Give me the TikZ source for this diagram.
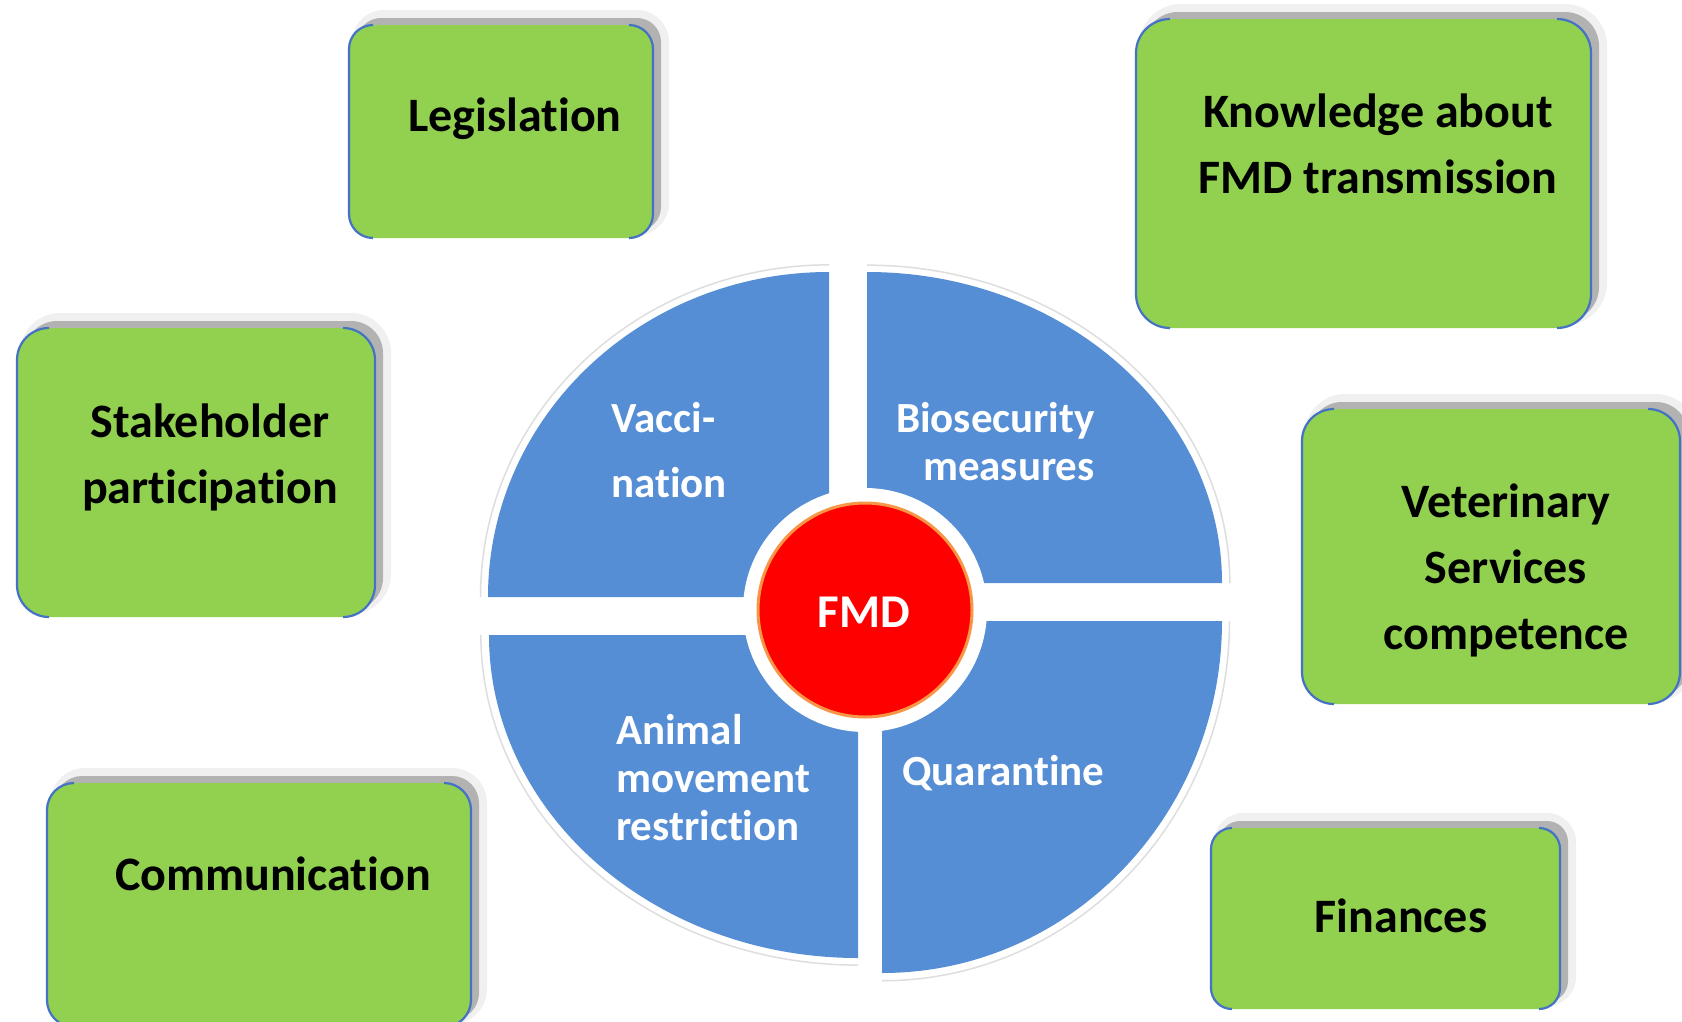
\documentclass[tikz,border=0pt]{standalone}
\usepackage{fontspec}
\setmainfont{Carlito}[Ligatures=NoCommon]
\usetikzlibrary{calc}
\definecolor{gfill}{HTML}{92D050}
\definecolor{bline}{HTML}{4472C4}
\definecolor{pieblue}{HTML}{558ED5}
\definecolor{fmdred}{HTML}{FF0000}
\definecolor{fmdorange}{HTML}{F79646}
\tikzset{
  halo/.style={fill=black!6},
  shade/.style={fill=black!30},
  boxfill/.style={fill=gfill},
  boxside/.style={draw=bline, line width=2.2},
  pieedge/.style={draw=black!13, line width=1.5},
  boxtext/.style={font=\fontsize{48}{66}\selectfont\bfseries, align=center, inner sep=0pt, anchor=base},
  pietext/.style={text=white, font=\fontsize{43}{48}\selectfont\bfseries, inner sep=0pt, anchor=base west, align=left},
}
\newcommand\greenbox[5]{%
  \fill[halo, rounded corners=#5+8] (#1+3,#2-15) rectangle (#3+16,#4-3);
  \fill[shade, rounded corners=#5] (#1+8,#2-7) rectangle (#3+8,#4-7);
  \fill[boxfill, rounded corners=#5] (#1,#2) rectangle (#3,#4);
  \draw[boxside, rounded corners=#5] (#1+#5,#2) -- (#1,#2) -- (#1,#4) -- (#1+#5,#4);
  \draw[boxside, rounded corners=#5] (#3-#5,#2) -- (#3,#2) -- (#3,#4) -- (#3-#5,#4);
}
\newcommand\quadrant[4]{%
  \coordinate (#1c) at #2; \coordinate (#1a) at #3; \coordinate (#1b) at #4;
  \coordinate (#1p) at ($(#1a)+0.5523*(#1b)-0.5523*(#1c)$);
  \coordinate (#1q) at ($(#1b)+0.5523*(#1a)-0.5523*(#1c)$);
  \draw[pieedge] ($(#1c)!1.022!(#1a)$) .. controls ($(#1c)!1.022!(#1p)$) and ($(#1c)!1.022!(#1q)$) .. ($(#1c)!1.022!(#1b)$);
  \fill[pieblue] (#1c) -- (#1a) .. controls (#1p) and (#1q) .. (#1b) -- cycle;
}
\begin{document}
\begin{tikzpicture}[x=1pt,y=-1pt]
\useasboundingbox (0,0) rectangle (1682,1021);
\clip (0,0) rectangle (1682,1021);
\fill[white] (0,0) rectangle (1682,1021);

% green boxes
\greenbox{349}{25}{653}{238}{24}
\greenbox{1136}{19}{1591}{328}{34}
\greenbox{17}{328}{375}{617}{32}
\greenbox{1302}{409}{1680}{704}{32}
\greenbox{47}{783}{471}{1027}{27}
\greenbox{1211}{828}{1560}{1009}{21}

% pie quadrants
\quadrant{TL}{(829,597)}{(488,597)}{(829,272)}
\quadrant{TR}{(867,583)}{(1222,583)}{(867,272)}
\quadrant{BL}{(858,635)}{(489,635)}{(858,958)}
\quadrant{BR}{(882,621)}{(1222,621)}{(882,973)}

% centre
\fill[white] (865,610) circle[radius=122];
\filldraw[fill=fmdred, draw=fmdorange, line width=3] (865,610) circle[radius=107];

% texts (base anchor = baseline of the last line)
\node[boxtext] (leg) at (515,131) {Legislation};
\node[boxtext] (know) at (1378,193) {Knowledge about\\FMD transmission};
\node[boxtext] (stake) at (210,503) {Stakeholder\\participation};
\node[boxtext] (vet) at (1506,649) {Veterinary\\Services\\competence};
\node[boxtext] (comm) at (273,890) {Communication};
\node[boxtext] (fin) at (1401,932) {Finances};

\node[pietext, font=\fontsize{43}{65}\selectfont\bfseries] (vac) at (611,497) {Vacci-\\nation};
\node[pietext, anchor=base east, align=right] (bio) at (1095,480) {Biosecurity\\measures};
\node[pietext] (anim) at (616,840) {Animal\\movement\\restriction};
\node[pietext] (quar) at (902,785) {Quarantine};
\node[text=white, font=\fontsize{47}{56}\selectfont\bfseries, inner sep=0pt, anchor=base] (fmd) at (864,627) {FMD};
\end{tikzpicture}
\end{document}
